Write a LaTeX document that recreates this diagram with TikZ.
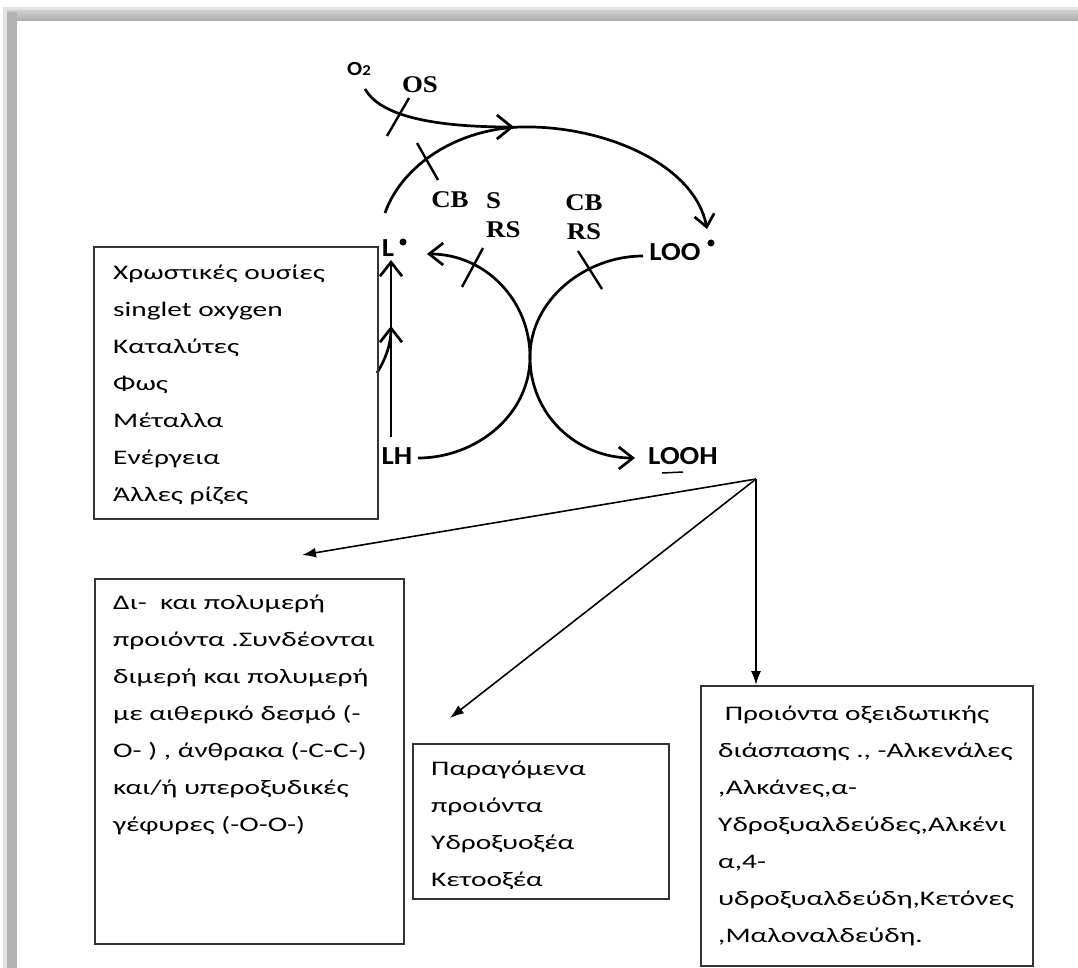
\documentclass[tikz,border=0pt]{standalone}
\usepackage{fontspec}
\setmainfont{Carlito}
\newfontfamily\boxfont[FakeStretch=1.42]{Carlito}
\newfontfamily\chemfont[FakeStretch=1.12]{Carlito}
\newfontfamily\serifb[FakeStretch=1.12]{Liberation Serif}
\usetikzlibrary{arrows.meta}
\begin{document}
\begin{tikzpicture}[x=1pt,y=-1pt,
  curve/.style={line width=2.7pt, black},
  openhead/.style={-{Straight Barb[length=14pt,width=22pt]}},
  tickmark/.style={line width=2.4pt, black},
  link/.style={line width=1.6pt, black, -{Latex[length=14pt,width=10pt]}},
  boxrect/.style={draw=black!80, line width=1.8pt, anchor=north west, inner sep=0pt},
  boxtext/.style={anchor=base west, inner sep=0pt, align=left, font=\boxfont\fontsize{20.7}{37}\selectfont},
  chem/.style={font=\chemfont\fontsize{26}{26}\selectfont\bfseries, inner sep=0pt},
  lab/.style={font=\serifb\fontsize{24}{29}\selectfont\bfseries, inner sep=0pt},
  raddot/.style={circle, fill=black, inner sep=0pt, minimum size=7pt},
]
\useasboundingbox (0,0) rectangle (1078,968);
\fill[white] (0,0) rectangle (1078,968);
% page frame (shadow)
\fill[gray!22] (3,7) rectangle (1078,21);
\fill[gray!22] (3,7) rectangle (17,968);
\shade[top color=gray!40, bottom color=gray!65] (7,11) rectangle (1078,21);
\fill[gray!60] (7,12) rectangle (17,968);

% chemical labels
\node[chem] (O2) at (359,69) {\fontsize{20}{20}\selectfont O\fontsize{15}{15}\selectfont 2};
\node[chem] (L) at (388,248) {L};
\node[raddot] (Ldot) at (403,242) {};
\node[chem] (LH) at (397,456) {LH};
\node[chem] (LOO) at (675,252) {LOO};
\node[raddot] (LOOdot) at (711,243) {};
\node[chem] (LOOH) at (683,456) {LOOH};

% serif labels
\node[lab] (OS) at (420,85) {OS};
\node[lab] (CBa) at (450,200) {CB};
\node[lab, anchor=base west, align=left] (SRS) at (486,238) {S\\RS};
\node[lab, anchor=base, align=center] (CBRS) at (584,240) {CB\\RS};

% coordinates on the curves
\coordinate (O2s) at (365,89);
\coordinate (merge) at (514,127);
\coordinate (Ls) at (385,213);
\coordinate (top) at (520,127);
\coordinate (LOOin) at (707,229);
\coordinate (LHs) at (418,458);
\coordinate (kiss) at (530,357);
\coordinate (Lin) at (427,254);
\coordinate (LOOs) at (643,256);
\coordinate (LOOHin) at (635,458);
\coordinate (vbot) at (391,437);
\coordinate (vtop) at (391,260);
\coordinate (vmid) at (391,326);
\coordinate (boxside) at (377,373);

% main curves
\draw[curve, -{Straight Barb[length=15pt,width=24pt]}] (O2s) .. controls (378,112) and (420,127) .. (merge);
\draw[curve, -{Straight Barb[length=12pt,width=20pt]}] (Ls) .. controls (400,170) and (450,130) .. (top)
   .. controls (605,125) and (695,165) .. (LOOin);
\draw[curve, openhead] (LHs) .. controls (476,458) and (530,415) .. (kiss)
   .. controls (530,300) and (485,254) .. (Lin);
\draw[curve, openhead] (LOOs) .. controls (585,256) and (530,300) .. (kiss)
   .. controls (530,415) and (577,458) .. (LOOHin);
\draw[curve, openhead] (vbot) -- (vtop);
\draw[curve, openhead] (boxside) .. controls (385,360) and (391,345) .. (vmid);

% inhibition ticks
\draw[tickmark] (409,98) -- (387,136);
\draw[tickmark] (417,143) -- (438,180);
\draw[tickmark] (483,248) -- (462,287);
\draw[tickmark] (578,251) -- (602,289);
% small mark under LOOH
\draw[line width=1.5pt] (662,473) -- (683,472);

% boxes
\node[boxrect, minimum width=284pt, minimum height=272pt] (B1) at (93,246) {};
\node[boxrect, minimum width=309pt, minimum height=365pt] (B2) at (94,578) {};
\node[boxrect, minimum width=256pt, minimum height=155pt] (B3) at (412,743) {};
\node[boxrect, minimum width=332pt, minimum height=280pt] (B4) at (700,685) {};

\node[boxtext] (T1) at (113,501) {Χρωστικές ουσίες\\singlet oxygen\\Καταλύτες\\Φως\\Μέταλλα\\Ενέργεια\\Άλλες ρίζες};
\node[boxtext] (T2) at (113,831) {Δι-\ \ και πολυμερή\\προιόντα .Συνδέονται\\διμερή και πολυμερή\\με αιθερικό δεσμό (-\\O- ) , άνθρακα (-C-C-)\\και/ή υπεροξυδικές\\γέφυρες (-O-O-)};
\node[boxtext] (T3) at (431,886) {Παραγόμενα\\προιόντα\\Υδροξυοξέα\\Κετοοξέα};
\node[boxtext] (T4) at (718,942) {\ Προιόντα οξειδωτικής\\διάσπασης ., -Αλκενάλες\\,Αλκάνες,α-\\Υδροξυαλδεύδες,Αλκένι\\α,4-\\υδροξυαλδεύδη,Κετόνες\\,Μαλοναλδεύδη.};

% product arrows
\coordinate (apex) at (756,479);
\coordinate (tipL) at (302,555);
\coordinate (tipM) at (450,718);
\draw[link] (apex) -- (tipL);
\draw[link] (apex) -- (tipM);
\draw[link] (apex) -- (B4.north -| apex);
\end{tikzpicture}
\end{document}
